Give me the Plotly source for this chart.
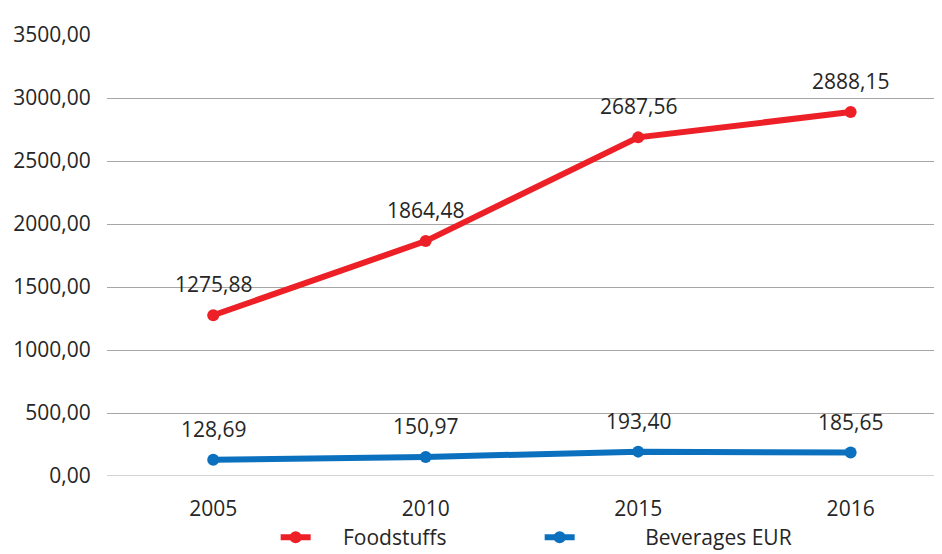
import plotly.graph_objects as go

years = ["2005", "2010", "2015", "2016"]
foodstuffs = [1275.88, 1864.48, 2687.56, 2888.15]
beverages = [128.69, 150.97, 193.40, 185.65]
y_ticks = [0, 500, 1000, 1500, 2000, 2500, 3000, 3500]

def fmt(v):
    return f"{v:.2f}".replace(".", ",")

FONT = "Open Sans, Noto Sans, sans-serif"
RED = "#ED2027"
BLUE = "#0B70BE"
TXT = "#262626"
FS = 21

fig = go.Figure()
fig.add_trace(go.Scatter(
    x=years, y=foodstuffs, name="     Foodstuffs", mode="lines+markers",
    line=dict(color=RED, width=6), marker=dict(size=12, color=RED),
))
fig.add_trace(go.Scatter(
    x=years, y=beverages, name="            Beverages EUR", mode="lines+markers",
    line=dict(color=BLUE, width=6), marker=dict(size=12, color=BLUE),
))

for series in (foodstuffs, beverages):
    for i, yv in enumerate(series):
        fig.add_annotation(x=i, y=yv, xref="x", yref="y", text=fmt(yv), showarrow=False,
                           yshift=31, font=dict(size=FS, color=TXT, family=FONT))

fig.update_layout(
    width=934, height=546,
    margin=dict(l=99, r=0, t=27, b=78),
    paper_bgcolor="white", plot_bgcolor="white",
    font=dict(family=FONT, size=FS, color=TXT),
    separators=",.",
    showlegend=True,
    legend=dict(orientation="h", x=0.202, xanchor="left", yref="container",
                y=0.03, yanchor="middle",
                font=dict(size=FS), entrywidth=219, tracegroupgap=0),
    xaxis=dict(type="category", range=[-0.5, 3.43], showgrid=False, showline=False,
               ticks="outside", ticklen=14, tickcolor="rgba(0,0,0,0)", zeroline=False,
               automargin=False),
    yaxis=dict(range=[0, 3500], tickvals=y_ticks, tickformat=".2f",
               showgrid=True, gridcolor="#A6A6A6", gridwidth=1, zeroline=False,
               ticks="outside", ticklen=11, tickcolor="rgba(0,0,0,0)", showline=False,
               automargin=False),
)
fig.add_shape(type="line", xref="paper", yref="y", x0=0, x1=1, y0=0, y1=0,
              line=dict(color="#A6A6A6", width=1), layer="below")

fig.write_html("out.html")
